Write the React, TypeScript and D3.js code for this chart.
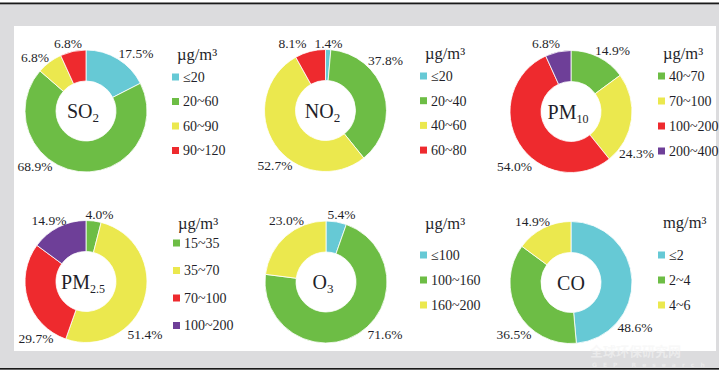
import React from "react";
import * as d3 from "d3";

// ---------- data ----------
const so2Categories = ["≤20", "20~60", "60~90", "90~120"];
const so2Values = [17.5, 68.9, 6.8, 6.8];
const no2Categories = ["≤20", "20~40", "40~60", "60~80"];
const no2Values = [1.4, 37.8, 52.7, 8.1];
const pm10Categories = ["40~70", "70~100", "100~200", "200~400"];
const pm10Values = [14.9, 24.3, 54.0, 6.8];
const pm25Categories = ["15~35", "35~70", "70~100", "100~200"];
const pm25Values = [4.0, 51.4, 29.7, 14.9];
const o3Categories = ["≤100", "100~160", "160~200"];
const o3Values = [5.4, 71.6, 23.0];
const coCategories = ["≤2", "2~4", "4~6"];
const coValues = [48.6, 36.5, 14.9];

// ---------- styles / layout ----------
const C = {
  cyan: "#66c9d5",
  green: "#6dbd45",
  yellow: "#ebe84e",
  red: "#ee2a2e",
  purple: "#6e3f98",
};

type Chart = {
  name: string;
  sub: string;
  unit: string;
  cats: string[];
  vals: number[];
  colors: string[];
  cx: number;
  cy: number;
  labelOff: [number, number][];
  legX: number;
  legTitleY: number;
  legItemY0: number;
  legStep: number;
};

const charts: Chart[] = [
  {
    name: "SO", sub: "2", unit: "µg/m³", cats: so2Categories, vals: so2Values,
    colors: [C.cyan, C.green, C.yellow, C.red], cx: 86, cy: 111,
    labelOff: [[50, -58], [-51, 55], [-51, -54], [-18, -68]],
    legX: 172, legTitleY: 54, legItemY0: 77, legStep: 24.5,
  },
  {
    name: "NO", sub: "2", unit: "µg/m³", cats: no2Categories, vals: no2Values,
    colors: [C.cyan, C.green, C.yellow, C.red], cx: 325.5, cy: 110.5,
    labelOff: [[3, -67], [60, -50], [-50.5, 55], [-33, -67]],
    legX: 420, legTitleY: 53, legItemY0: 76, legStep: 24.7,
  },
  {
    name: "PM", sub: "10", unit: "µg/m³", cats: pm10Categories, vals: pm10Values,
    colors: [C.green, C.yellow, C.red, C.purple], cx: 571, cy: 111.5,
    labelOff: [[41.5, -61], [65.5, 42], [-56.5, 55], [-25, -68]],
    legX: 658, legTitleY: 53, legItemY0: 76, legStep: 25,
  },
  {
    name: "PM", sub: "2.5", unit: "µg/m³", cats: pm25Categories, vals: pm25Values,
    colors: [C.green, C.yellow, C.red, C.purple], cx: 86, cy: 281.5,
    labelOff: [[13.5, -67], [59, 53], [-50, 57], [-37, -61]],
    legX: 173, legTitleY: 223, legItemY0: 243, legStep: 27.5,
  },
  {
    name: "O", sub: "3", unit: "µg/m³", cats: o3Categories, vals: o3Values,
    colors: [C.cyan, C.green, C.yellow], cx: 326, cy: 282,
    labelOff: [[15.5, -68], [59, 52], [-39.5, -62]],
    legX: 420, legTitleY: 223, legItemY0: 255, legStep: 25,
  },
  {
    name: "CO", sub: "", unit: "mg/m³", cats: coCategories, vals: coValues,
    colors: [C.cyan, C.green, C.yellow], cx: 571, cy: 282.5,
    labelOff: [[64, 45], [-57, 52], [-38.5, -61]],
    legX: 658, legTitleY: 222, legItemY0: 255, legStep: 25,
  },
];

const OUTER = 61;
const INNER = 30;
const FONT = "Liberation Serif, Tinos, Times New Roman, DejaVu Serif, serif";
const TEXT = "#1f1f2a";
const serif = { fontFamily: FONT };

function Donut({ c }: { c: Chart }) {
  const pie = d3.pie<number>().sort(null).value((d) => d);
  const arc = d3.arc<d3.PieArcDatum<number>>().innerRadius(INNER).outerRadius(OUTER);
  const arcs = pie(c.vals);
  return (
    <g>
      <g transform={`translate(${c.cx},${c.cy})`}>
        {arcs.map((a, i) => (
          <path key={i} d={arc(a) || ""} fill={c.colors[i]} stroke="#fff" strokeWidth={0.8} />
        ))}
        <text
          x={c.sub === "" ? 0 : -3}
          y={7}
          textAnchor="middle"
          style={{ ...serif, fontSize: 20 }}
          fill={TEXT}
        >
          {c.name}
          {c.sub && (
            <tspan style={{ fontSize: c.sub.length > 1 ? 12 : 13 }} dy={4}>
              {c.sub}
            </tspan>
          )}
        </text>
        {arcs.map((a, i) => (
          <text
            key={"l" + i}
            x={c.labelOff[i][0]}
            y={c.labelOff[i][1]}
            dy="0.35em"
            textAnchor="middle"
            style={{ ...serif, fontSize: 13.5 }}
            fill={TEXT}
          >
            {d3.format(".1f")(c.vals[i]) + "%"}
          </text>
        ))}
      </g>
      <text
        x={c.legX + 5}
        y={c.legTitleY}
        dy="0.35em"
        style={{ ...serif, fontSize: 16.5 }}
        fill={TEXT}
      >
        {c.unit}
      </text>
      {c.cats.map((cat, i) => {
        const y = c.legItemY0 + i * c.legStep;
        return (
          <g key={"g" + i}>
            <rect x={c.legX} y={y - 3.5} width={7} height={7} fill={c.colors[i]} />
            <text
              x={c.legX + 11}
              y={y}
              dy="0.35em"
              style={{ ...serif, fontSize: 14 }}
              fill={TEXT}
            >
              {cat}
            </text>
          </g>
        );
      })}
    </g>
  );
}

export default function App() {
  return (
    <svg
      width={719}
      height={377}
      style={{ position: "absolute", left: 0, top: 0, display: "block" }}
    >
      <rect x={0} y={0} width={719} height={377} fill="#dcdcde" />
      <rect x={0} y={0} width={719} height={3} fill="#ffffff" />
      <rect x={0} y={2.5} width={719} height={1.8} fill="#1a1a1a" />
      <rect x={14} y={26} width={702} height={325} fill="#ffffff" />
      <rect x={0} y={368} width={719} height={1.8} fill="#1a1a1a" />
      <rect x={0} y={369.8} width={719} height={8} fill="#ffffff" />
      {charts.map((c, i) => (
        <Donut key={i} c={c} />
      ))}
      <text
        x={590}
        y={356}
        style={{ fontFamily: "Noto Sans CJK SC, sans-serif", fontSize: 13, fontWeight: 700 }}
        fill="#f4f4f4"
        opacity={0.6}
      >
        全球环保研究网
      </text>
      <text
        x={592}
        y={367}
        style={{ fontFamily: "DejaVu Sans, sans-serif", fontSize: 6, fontWeight: 700, letterSpacing: 6 }}
        fill="#f4f4f4"
        opacity={0.6}
      >
        GEP Research
      </text>
    </svg>
  );
}
